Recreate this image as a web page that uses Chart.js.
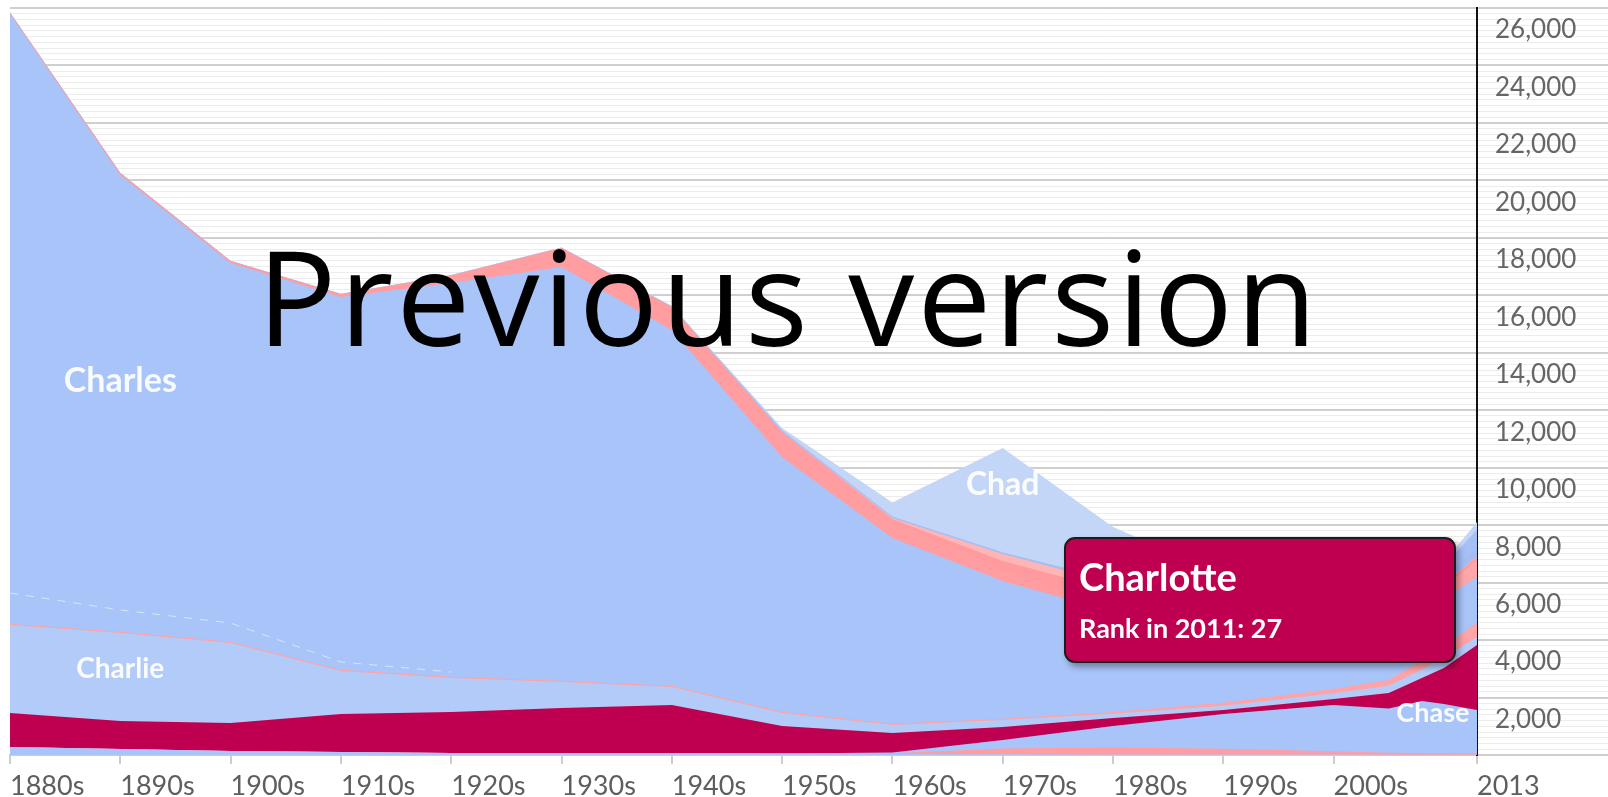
<!DOCTYPE html>
<html>
<head>
<meta charset="utf-8">
<title>Cha- names</title>
<script src="https://cdn.jsdelivr.net/npm/chart.js@4.4.1/dist/chart.umd.min.js"></script>
<style>
  html, body { margin: 0; padding: 0; background: #fff; }
  #wrap { position: relative; width: 1608px; height: 797px; overflow: hidden; }
  #namesChart { position: absolute; left: 0; top: 0; }
  .name-tip {
    position: absolute; left: 1064px; top: 537px; width: 388px; height: 122px;
    background: #bf0050; border: 2px solid #1c1c1c; border-radius: 11px;
    box-shadow: 3px 4px 6px rgba(0,0,0,0.35);
    color: #fff; font-family: Lato, sans-serif;
  }
  .name-tip .who { position: absolute; left: 13px; top: 14px; font-size: 38px; font-weight: 700; }
  .name-tip .rank { position: absolute; left: 13px; top: 72px; font-size: 27px; font-weight: 700; }
  .stamp {
    position: absolute; left: 257px; top: 229px; font-family: "Open Sans", sans-serif;
    font-size: 132px; line-height: 132px; letter-spacing: 3px; color: #000; white-space: nowrap;
  }
</style>
</head>
<body>
<div id="wrap">
  <canvas id="namesChart" width="1608" height="797"></canvas>
  <div class="name-tip"><div class="who">Charlotte</div><div class="rank">Rank in 2011: 27</div></div>
  <div class="stamp">Previous version</div>
</div>
<script>
// per-million counts, stacked bottom to top
const years = [1880, 1890, 1900, 1910, 1920, 1930, 1940, 1950, 1960, 1970, 1980, 1990, 2000, 2005, 2008, 2010, 2013];

const chauncey    = [278, 209, 139, 104, 70, 70, 70, 52, 35, 30, 20, 20, 20, 10, 10, 10, 10];
const chasity     = [0, 0, 0, 0, 0, 0, 0, 0, 30, 200, 240, 200, 110, 70, 60, 50, 40];
const chase       = [0, 0, 0, 0, 0, 0, 0, 0, 20, 292, 750, 1207, 1610, 1538, 1810, 1715, 1516];
const charlotte   = [1184, 974, 975, 1323, 1427, 1566, 1670, 957, 681, 453, 279, 139, 209, 540, 800, 1253, 2263];
const charlieBoy  = [3063, 3063, 2784, 1497, 1183, 905, 627, 453, 278, 243, 150, 150, 200, 250, 300, 350, 280];
const charlieGirl = [40, 40, 40, 40, 40, 40, 40, 40, 40, 40, 60, 100, 150, 200, 300, 400, 490];
const charley     = [1074, 761, 656, 273, 169, 134, 80, 50, 30, 20, 15, 20, 20, 20, 20, 20, 15];
const charles     = [20151, 15141, 12531, 12704, 13540, 14271, 12306, 8820, 6439, 4778, 3464, 2024, 1494, 1775, 1685, 1650, 1585];
const charlene    = [0, 20, 20, 60, 230, 630, 770, 820, 576, 400, 120, 40, 20, 10, 10, 10, 10];
const charlee     = [0, 0, 0, 0, 0, 0, 0, 0, 0, 0, 0, 20, 40, 100, 270, 380, 580];
const charity     = [40, 40, 40, 35, 30, 30, 30, 40, 80, 300, 630, 240, 170, 130, 110, 100, 90];
const chandra     = [0, 0, 0, 0, 0, 0, 0, 10, 40, 240, 260, 80, 30, 20, 20, 20, 20];
const chandler    = [0, 0, 0, 0, 0, 0, 0, 0, 10, 20, 40, 900, 700, 450, 300, 250, 300];
const chance      = [20, 20, 15, 15, 15, 15, 20, 60, 40, 40, 60, 500, 600, 500, 420, 380, 650];
const chad        = [0, 0, 0, 0, 0, 0, 20, 80, 487, 3630, 1850, 625, 300, 200, 150, 130, 260];

const tickYears  = [1880, 1890, 1900, 1910, 1920, 1930, 1940, 1950, 1960, 1970, 1980, 1990, 2000, 2013];
const tickLabels = ['1880s', '1890s', '1900s', '1910s', '1920s', '1930s', '1940s', '1950s', '1960s', '1970s', '1980s', '1990s', '2000s', '2013'];

// names written inside their own band
const areaLabels = [
  { text: 'Charles', year: 1890, value: 13000, size: 34 },
  { text: 'Charlie', year: 1890, value: 3000, size: 28 },
  { text: 'Chad', year: 1970, value: 9400, size: 32 },
  { text: 'Chase', year: 2009, value: 1460, size: 27 }
];

const BOY = '#a9c4f9';
const GIRL = '#ff9da1';

function band(label, data, color, extra) {
  // every band fills down to zero; lower bands are painted later and cover the rest
  return Object.assign({
    label: label, data: data, backgroundColor: color, borderWidth: 0,
    fill: 'origin', pointRadius: 0, tension: 0
  }, extra || {});
}

// Charley's dashed edge only shows while the band is wide (before 1920)
const charleyEdge = {
  borderWidth: 1, borderDash: [8, 8],
  segment: { borderColor: s => s.p0DataIndex < 4 ? 'rgba(255,255,255,0.55)' : 'rgba(255,255,255,0)' }
};

const datasets = [
  band('Chauncey', chauncey, BOY),
  band('Chasity', chasity, GIRL),
  band('Chase', chase, BOY),
  band('Charlotte', charlotte, '#bf0050'),
  band('Charlie', charlieBoy, '#b3cbf8'),
  band('Charlie (girl)', charlieGirl, '#ffa3a6'),
  band('Charley', charley, BOY, charleyEdge),
  band('Charles', charles, BOY),
  band('Charlene', charlene, GIRL),
  band('Charlee', charlee, '#ffa6a9'),
  band('Charity', charity, '#ff9a9e'),
  band('Chandra', chandra, '#ffb4b6'),
  band('Chandler', chandler, '#a3bdf3'),
  band('Chance', chance, '#a6c0f5'),
  band('Chad', chad, '#c4d6f7')
];

const bandLabels = {
  id: 'bandLabels',
  afterDatasetsDraw(chart) {
    const c = chart.ctx;
    const xs = chart.scales.x, ys = chart.scales.y;
    c.save();
    c.fillStyle = 'rgba(255,255,255,0.92)';
    c.textAlign = 'center';
    c.textBaseline = 'middle';
    areaLabels.forEach(l => {
      c.font = '700 ' + l.size + 'px Lato, sans-serif';
      c.fillText(l.text, xs.getPixelForValue(l.year), ys.getPixelForValue(l.value));
    });
    c.restore();
  }
};

const ctx = document.getElementById('namesChart').getContext('2d');
new Chart(ctx, {
  type: 'line',
  data: { labels: years, datasets: datasets },
  plugins: [bandLabels],
  options: {
    responsive: false,
    animation: false,
    events: [],
    layout: { padding: { left: 10, top: 8, right: 0, bottom: 0 } },
    plugins: { legend: { display: false }, tooltip: { enabled: false } },
    scales: {
      x: {
        type: 'linear', min: 1880, max: 2013,
        afterBuildTicks: s => { s.ticks = tickYears.map(v => ({ value: v })); },
        afterFit: s => { s.height = 42; s.paddingLeft = 0; s.paddingRight = 0; },
        ticks: {
          autoSkip: false, maxRotation: 0, align: 'start', padding: 6,
          color: '#5e5e5e', font: { family: 'Lato, sans-serif', size: 27 },
          callback: v => { const i = tickYears.indexOf(v); return i < 0 ? '' : tickLabels[i]; }
        },
        grid: { drawOnChartArea: false, drawTicks: true, tickLength: 9, color: '#cdcdcd', lineWidth: 2 },
        border: { display: true, color: '#cdcdcd', width: 2 }
      },
      y: {
        position: 'right', stacked: true, min: 0, max: 26000,
        afterFit: s => { s.width = 131; s.paddingTop = 0; s.paddingBottom = 0; },
        ticks: {
          stepSize: 200, autoSkip: false, padding: -113, labelOffset: 22,
          color: '#666', font: { family: 'Lato, sans-serif', size: 26 },
          callback: v => (v > 0 && v % 2000 === 0) ? v.toLocaleString('en-US') : ''
        },
        grid: {
          drawTicks: true, tickLength: 131,
          color: c => (c.tick && c.tick.value % 2000 === 0) ? '#cfcfcf' : '#ececec',
          lineWidth: c => (c.tick && c.tick.value % 2000 === 0) ? 2 : 1
        },
        border: { display: true, color: '#111', width: 2 }
      }
    }
  }
});
</script>
</body>
</html>
